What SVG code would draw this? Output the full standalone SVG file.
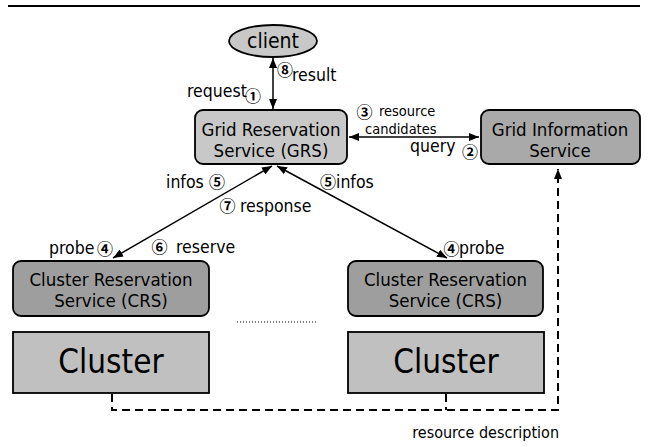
<svg xmlns="http://www.w3.org/2000/svg" width="654" height="447" viewBox="0 0 654 447">
  <style>
    text { font-family: "DejaVu Sans Condensed", "DejaVu Sans", sans-serif; font-stretch: condensed; fill: #000; }
    .box { stroke: #000; stroke-width: 1.8; }
    .light { fill: #c8c8c8; }
    .mid { fill: #a9a9a9; }
    .dark { fill: #9e9e9e; }
    .cl { fill: #c0c0c0; }
    .node { font-size: 18.5px; text-anchor: middle; }
    .big { font-size: 33px; text-anchor: middle; }
    .lbl { font-size: 17.5px; }
    .small { font-size: 14.5px; }
    .num { font-family: "Noto Sans CJK JP", "DejaVu Sans", sans-serif; font-stretch: normal; font-weight: 700; font-size: 16px; text-anchor: middle; }
    .link { stroke: #000; stroke-width: 1.5; fill: none; }
    .dash { stroke: #000; stroke-width: 2; fill: none; stroke-dasharray: 8 5; }
  </style>
  <defs>
    <marker id="head" viewBox="0 0 10 8" refX="10" refY="4" markerWidth="10" markerHeight="8" markerUnits="userSpaceOnUse" orient="auto-start-reverse">
      <path d="M0,0 L10,4 L0,8 Z" fill="#000"/>
    </marker>
  </defs>

  <!-- header rule -->
  <line x1="8" y1="6" x2="640" y2="6" stroke="#000" stroke-width="2"/>

  <g id="client">
    <ellipse class="box light" cx="273" cy="41" rx="44" ry="16"/>
    <text x="273" y="48" style="font-size:21px" text-anchor="middle">client</text>
  </g>

  <g id="grs">
    <rect class="box light" x="195" y="110" width="152" height="54" rx="8"/>
    <text class="node" x="271" y="136">Grid Reservation</text>
    <text class="node" x="271" y="157">Service (GRS)</text>
  </g>

  <g id="gis">
    <rect class="box mid" x="481" y="110" width="159" height="54" rx="8"/>
    <text class="node" x="560" y="136">Grid Information</text>
    <text class="node" x="560" y="157">Service</text>
  </g>

  <g id="crs1">
    <rect class="box dark" x="13" y="261" width="196" height="55" rx="8"/>
    <text class="node" x="111" y="286">Cluster Reservation</text>
    <text class="node" x="111" y="307">Service (CRS)</text>
  </g>

  <g id="crs2">
    <rect class="box dark" x="348" y="261" width="195" height="55" rx="8"/>
    <text class="node" x="445.5" y="286">Cluster Reservation</text>
    <text class="node" x="445.5" y="307">Service (CRS)</text>
  </g>

  <g id="cluster1">
    <rect class="box cl" x="13" y="332" width="196" height="61"/>
    <text class="big" x="111" y="373">Cluster</text>
  </g>

  <g id="cluster2">
    <rect class="box cl" x="348" y="332" width="196" height="61"/>
    <text class="big" x="446" y="373">Cluster</text>
  </g>

  <g id="connectors">
    <line class="link" x1="273" y1="58" x2="273" y2="109" marker-start="url(#head)" marker-end="url(#head)"/>
    <line class="link" x1="349" y1="137" x2="479" y2="137" marker-start="url(#head)" marker-end="url(#head)"/>
    <line class="link" x1="272" y1="166" x2="113" y2="258" marker-start="url(#head)" marker-end="url(#head)"/>
    <line class="link" x1="277" y1="166" x2="447" y2="258" marker-start="url(#head)" marker-end="url(#head)"/>
    <!-- cluster-to-information feed -->
    <path class="dash" d="M112,394 V410 H558 V169" marker-end="url(#head)"/>
    <path class="dash" d="M446,394 V410"/>
    <!-- further clusters -->
    <line x1="237" y1="322" x2="317" y2="322" stroke="#000" stroke-width="1.2" stroke-dasharray="1 2"/>
  </g>

  <g id="labels">
    <text class="lbl" x="187" y="97">request</text>
    <text class="num" x="253" y="101.5">①</text>
    <text class="num" x="285" y="76">⑧</text>
    <text class="lbl" x="292" y="81">result</text>
    <text class="num" x="364.5" y="117.5">③</text>
    <text class="small" x="379" y="116">resource</text>
    <text class="small" x="365" y="133.5">candidates</text>
    <text class="lbl" x="410" y="152">query</text>
    <text class="num" x="470" y="158">②</text>
    <text class="lbl" x="166" y="188">infos</text>
    <text class="num" x="217" y="187.5">⑤</text>
    <text class="num" x="328" y="187.5">⑤</text>
    <text class="lbl" x="336" y="188">infos</text>
    <text class="num" x="227.5" y="212">⑦</text>
    <text class="lbl" x="240" y="212">response</text>
    <text class="num" x="159.5" y="253">⑥</text>
    <text class="lbl" x="176" y="253">reserve</text>
    <text class="lbl" x="49" y="254">probe</text>
    <text class="num" x="105" y="254.5">④</text>
    <text class="num" x="451.5" y="254.5">④</text>
    <text class="lbl" x="459" y="254">probe</text>
    <text x="559" y="438" text-anchor="end" style="font-size:16px">resource description</text>
  </g>
</svg>
